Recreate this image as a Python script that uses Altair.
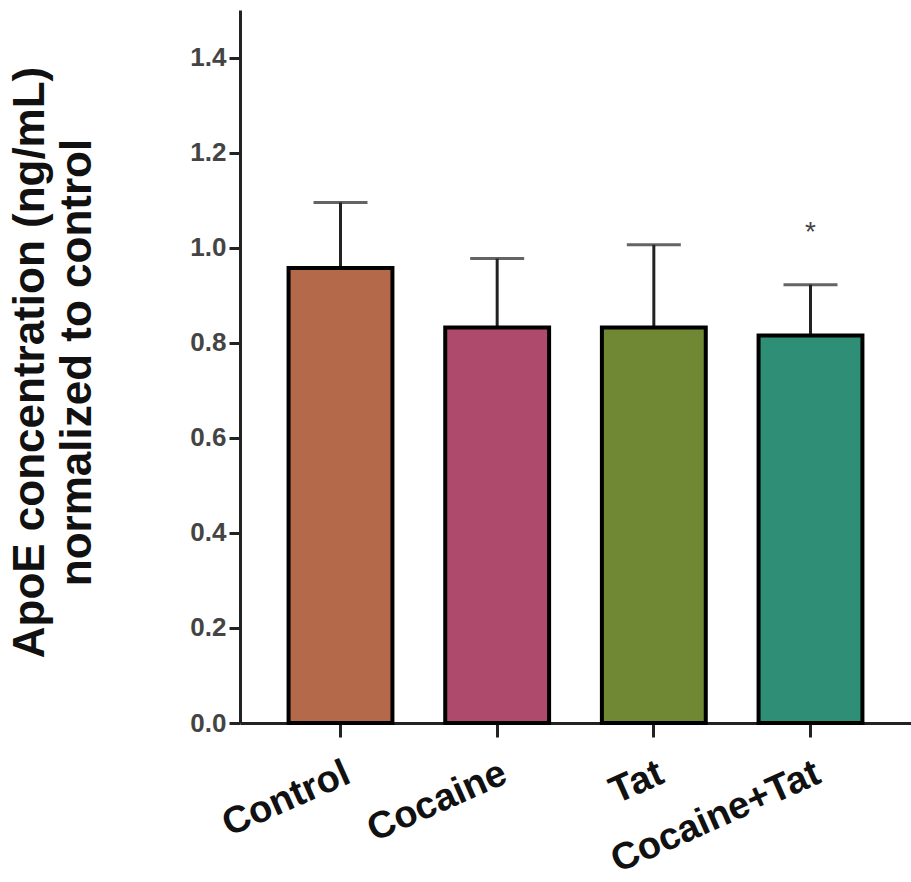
import altair as alt
import pandas as pd

# ---- data ----
groups = ["Control", "Cocaine", "Tat", "Cocaine+Tat"]
means = [0.957, 0.832, 0.832, 0.815]
errors = [0.138, 0.145, 0.174, 0.107]
bar_colors = ["#B5694B", "#AE4B6C", "#708834", "#2E8F76"]
sig_marks = ["", "", "", "*"]
sig_level = [None, None, None, 1.015]
y_ticks = [0.0, 0.2, 0.4, 0.6, 0.8, 1.0, 1.2, 1.4]
y_title = ["ApoE concentration (ng/mL)", "normalized to control"]

df = pd.DataFrame({
    "group": groups,
    "mean": means,
    "err": errors,
    "sig": sig_marks,
    "sig_y": sig_level,
})
df["upper"] = df["mean"] + df["err"]

FONT = "Liberation Sans"

x_enc = alt.X(
    "group:N",
    sort=groups,
    scale=alt.Scale(paddingInner=0.337, paddingOuter=0.31),
    axis=alt.Axis(
        title=None,
        labelAngle=-24,
        labelAlign="right",
        labelBaseline="top",
        labelFont=FONT,
        labelFontSize=38,
        labelFontWeight="bold",
        labelColor="#111111",
        labelPadding=17,
        labelLimit=0,
        labelOverlap=False,
        tickSize=14,
        tickWidth=3,
        tickColor="#222222",
        domainWidth=3,
        domainColor="#222222",
    ),
)

y_scale = alt.Scale(domain=[0, 1.5], nice=False, zero=True)

y_axis = alt.Axis(
    values=y_ticks,
    format=".1f",
    grid=False,
    labelFont=FONT,
    labelFontSize=26,
    labelFontWeight="bold",
    labelColor="#444444",
    labelPadding=3,
    tickSize=11,
    tickWidth=3,
    tickColor="#222222",
    domainWidth=3,
    domainColor="#222222",
    title=y_title,
    titleFont=FONT,
    titleFontSize=44,
    titleFontWeight="bold",
    titleColor="#111111",
    titleLineHeight=47,
    titleAngle=-90,
    titleAlign="center",
    titleBaseline="bottom",
    titleX=-188,
    titleY=352,
)

base = alt.Chart(df).encode(x=x_enc)

bars = base.mark_bar(stroke="black", strokeWidth=4).encode(
    y=alt.Y("mean:Q", scale=y_scale, axis=y_axis),
    color=alt.Color("group:N", scale=alt.Scale(domain=groups, range=bar_colors), legend=None),
)

err_line = base.mark_rule(strokeWidth=3, color="#222222").encode(
    y=alt.Y("mean:Q", scale=y_scale, axis=y_axis),
    y2="upper:Q",
)

err_cap = base.mark_tick(size=54, thickness=3, color="#222222", orient="horizontal").encode(
    y=alt.Y("upper:Q", scale=y_scale, axis=y_axis),
)

sig_text = base.mark_text(
    font=FONT, fontSize=28, color="#444444", baseline="alphabetic", align="center"
).transform_filter(alt.datum.sig != "").encode(
    y=alt.Y("sig_y:Q", scale=y_scale, axis=y_axis),
    text="sig:N",
)

chart = (
    alt.layer(err_line, err_cap, bars, sig_text)
    .properties(
        width=671,
        height=713,
        autosize=alt.AutoSizeParams(type="none"),
        padding={"left": 240, "top": 10, "right": 0, "bottom": 159},
        background="white",
    )
    .configure_view(stroke=None)
)

chart.save("out.html", embed_options={"renderer": "svg", "actions": False})
